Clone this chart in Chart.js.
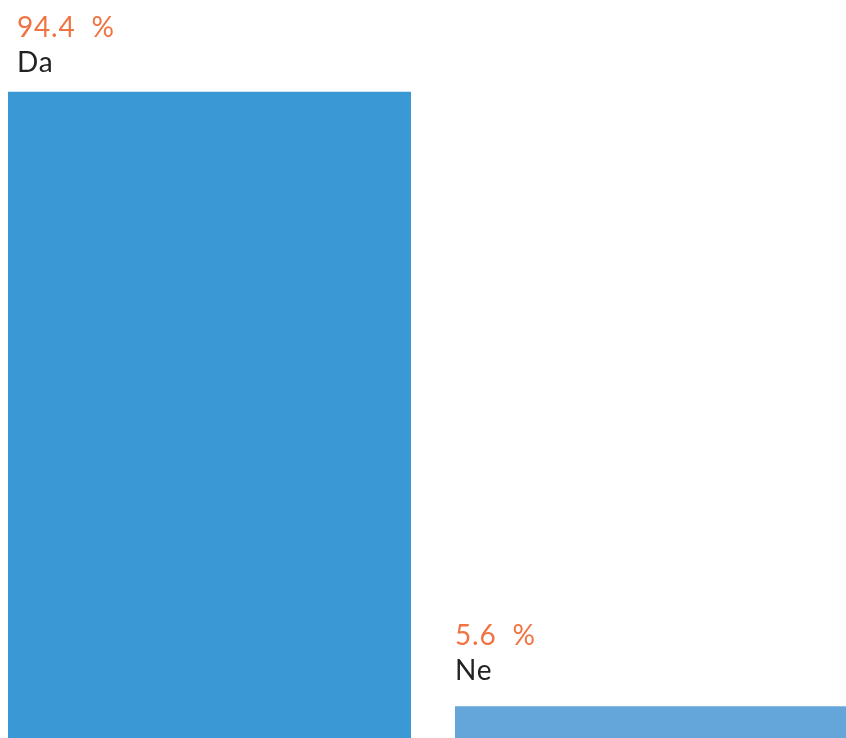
<!DOCTYPE html>
<html>
<head>
<meta charset="utf-8">
<script src="https://cdn.jsdelivr.net/npm/chart.js@4/dist/chart.umd.min.js"></script>
<style>
  html, body { margin: 0; padding: 0; background: #fff; }
  #wrap { position: relative; width: 846px; height: 738px; overflow: hidden; background: #fff; }
  #box { position: absolute; left: -14px; top: 0; width: 894px; height: 745px; }
</style>
</head>
<body>
<div id="wrap"><div id="box"><canvas id="c"></canvas></div></div>
<script>
const categories = ["Da", "Ne"];
const values = [94.4, 5.6];
const valueLabels = ["94.4  %", "5.6  %"];
const barColors = ["#3a98d5", "#64a6d9"];

const labelPlugin = {
  id: 'barLabels',
  afterDatasetsDraw(chart) {
    const ctx = chart.ctx;
    const meta = chart.getDatasetMeta(0);
    ctx.save();
    ctx.textAlign = 'left';
    ctx.textBaseline = 'alphabetic';
    ctx.font = '28px Lato, "Noto Sans", sans-serif';
    if ('letterSpacing' in ctx) ctx.letterSpacing = '0.8px';
    meta.data.forEach((bar, i) => {
      const left = Math.max(bar.x - bar.width / 2, 31);
      const nameY = Math.max(bar.y - 26, 72);
      ctx.fillStyle = '#f07443';
      ctx.fillText(valueLabels[i], left, nameY - 35);
      ctx.fillStyle = '#222222';
      ctx.fillText(categories[i], left, nameY);
    });
    ctx.restore();
  }
};

new Chart(document.getElementById('c'), {
  type: 'bar',
  data: {
    labels: categories,
    datasets: [{
      data: values,
      backgroundColor: barColors,
      borderWidth: 0,
      barPercentage: 1,
      categoryPercentage: 0.9016
    }]
  },
  options: {
    responsive: true,
    maintainAspectRatio: false,
    animation: false,
    layout: { padding: { top: 53, left: 0, right: 0, bottom: 0 } },
    plugins: { legend: { display: false }, tooltip: { enabled: false } },
    scales: {
      x: { display: false },
      y: { display: false, min: 0, max: 100 }
    }
  },
  plugins: [labelPlugin]
});
</script>
</body>
</html>
